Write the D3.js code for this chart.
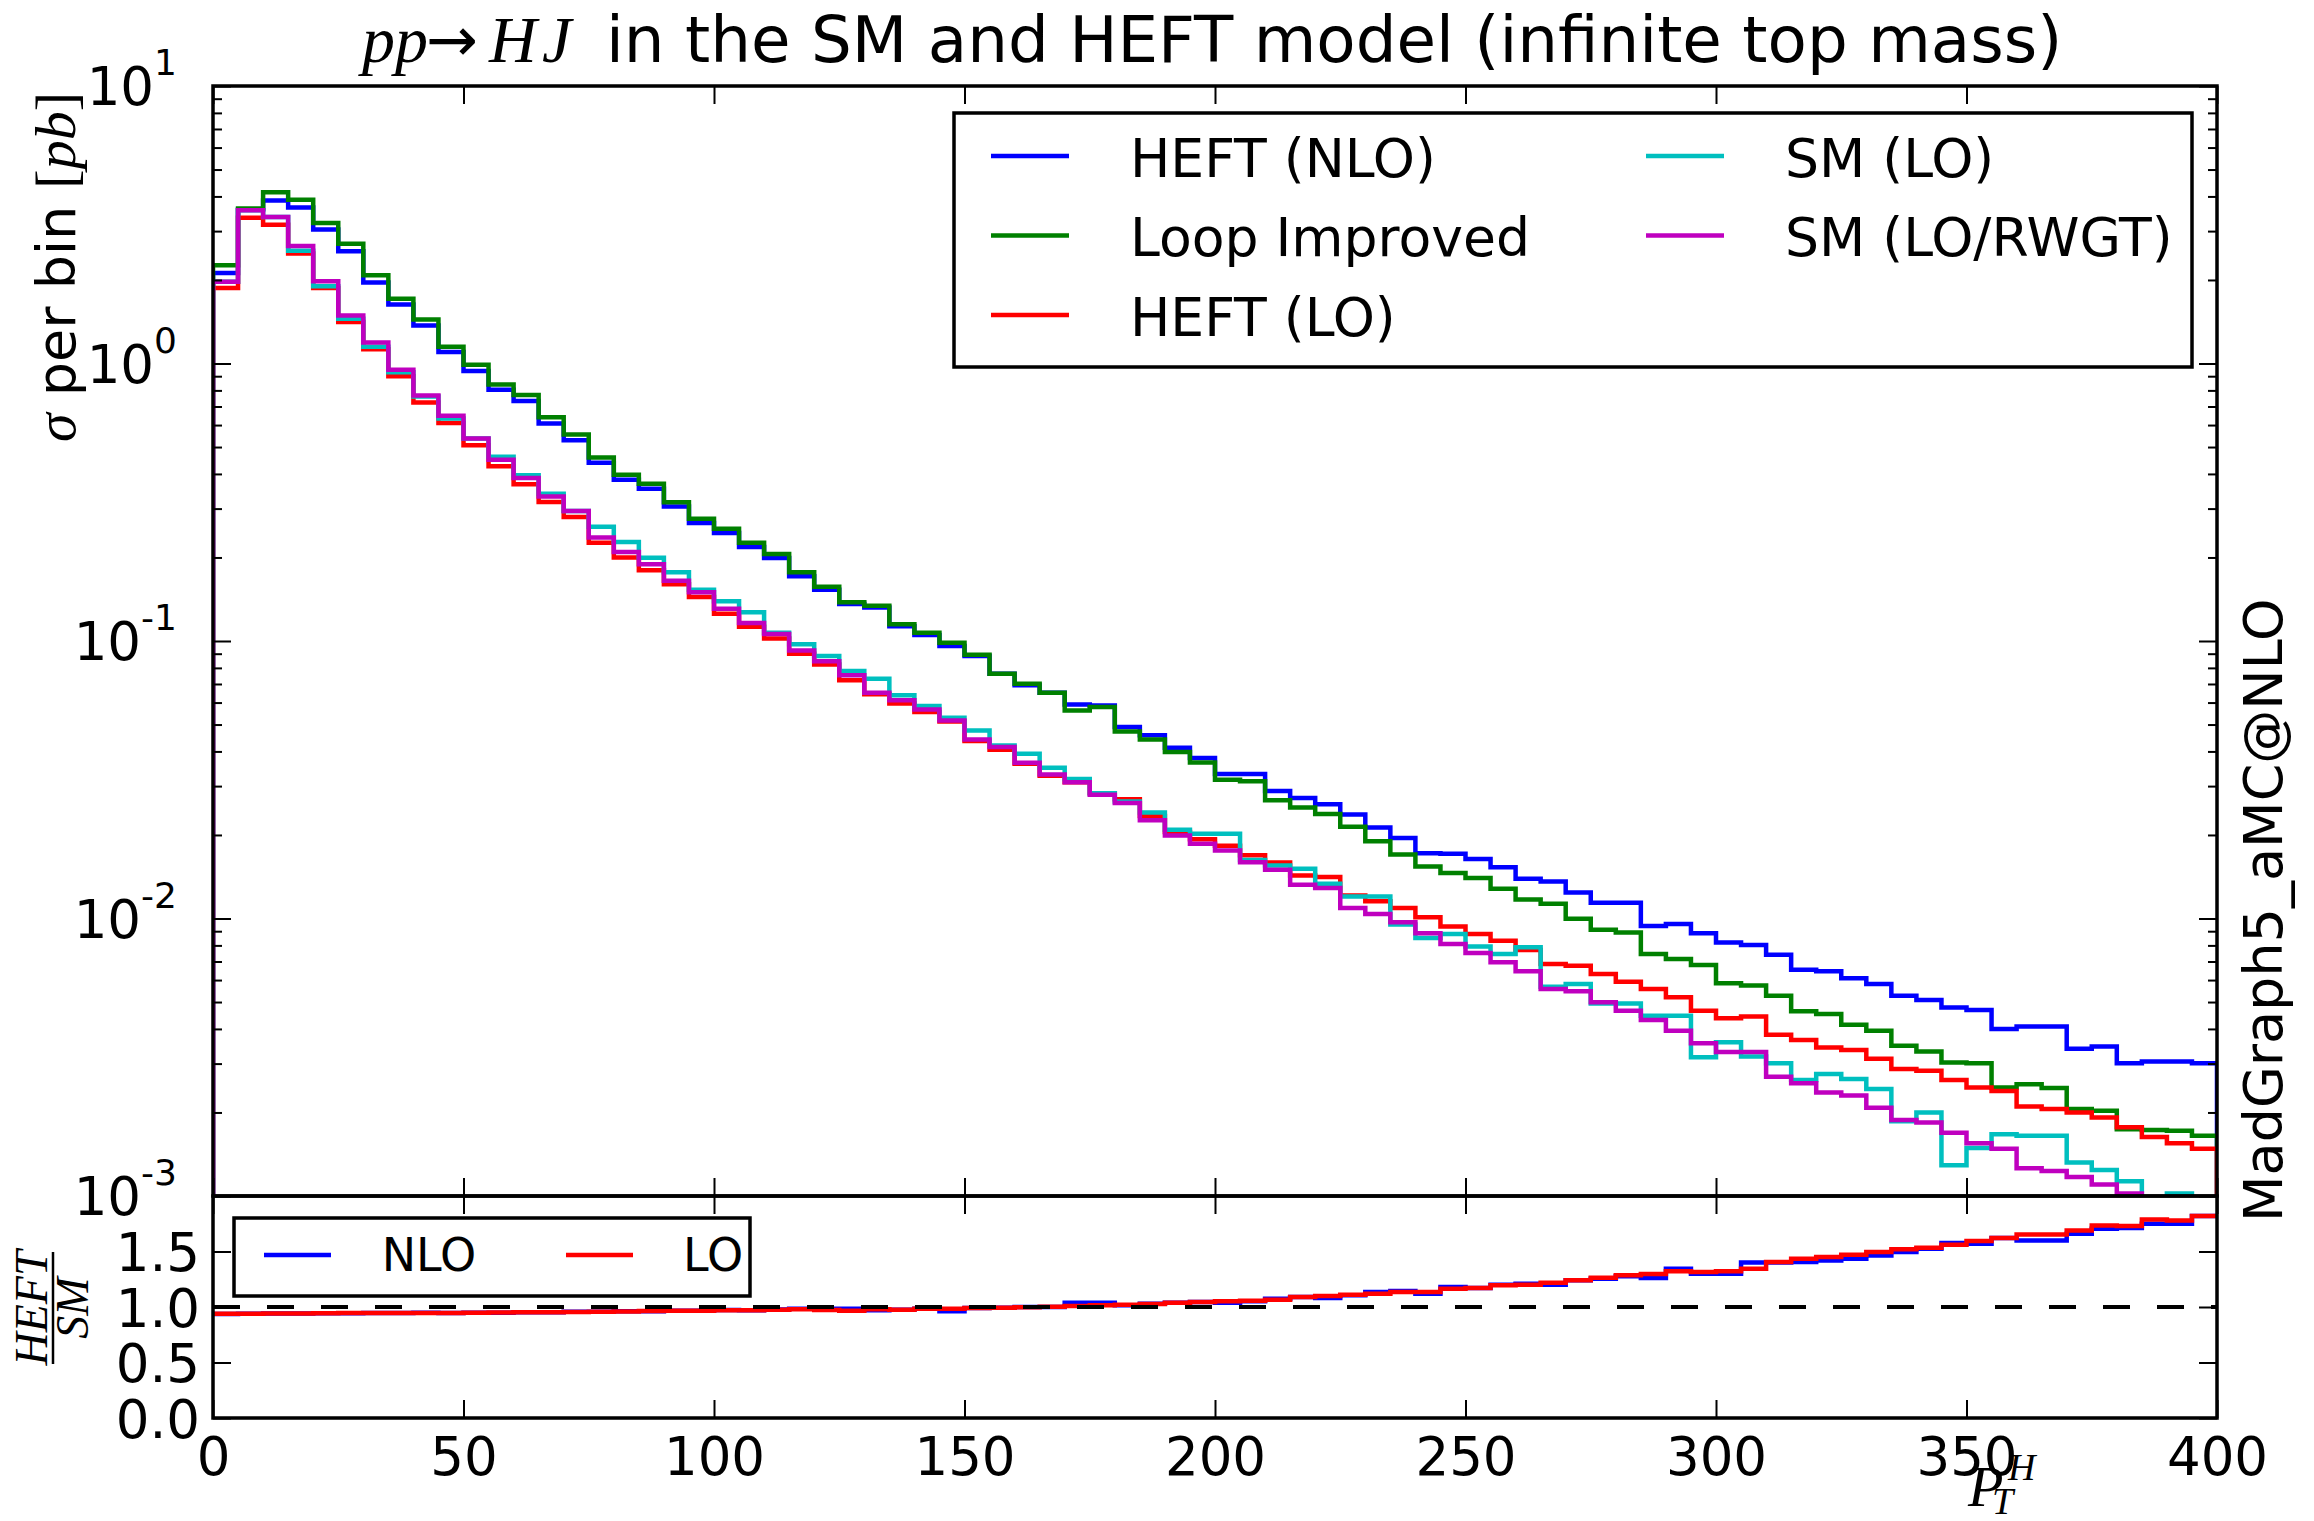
<!DOCTYPE html>
<html><head><meta charset="utf-8">
<script src="https://cdn.jsdelivr.net/npm/d3@7"></script>
<style>body{margin:0;background:#fff}svg{display:block}</style>
</head><body><svg id="c" width="2314" height="1521"></svg>
<script>
// ---------------- DATA ----------------
const ptEdges = [0,5,10,15,20,25,30,35,40,45,50,55,60,65,70,75,80,85,90,95,100,105,110,115,120,125,130,135,140,145,150,155,160,165,170,175,180,185,190,195,200,205,210,215,220,225,230,235,240,245,250,255,260,265,270,275,280,285,290,295,300,305,310,315,320,325,330,335,340,345,350,355,360,365,370,375,380,385,390,395,400];

const heftNLO = [2.12,3.59,3.87,3.65,3.04,2.54,1.96,1.63,1.37,1.10,0.94,0.805,0.732,0.608,0.529,0.439,0.381,0.354,0.305,0.266,0.245,0.218,0.199,0.171,0.153,0.136,0.132,0.113,0.105,0.0959,0.0883,0.0762,0.0692,0.0651,0.0591,0.0586,0.0490,0.0457,0.0412,0.0379,0.0332,0.0332,0.0288,0.0272,0.0258,0.0237,0.0213,0.0195,0.0172,0.0171,0.0164,0.0153,0.0139,0.0136,0.0124,0.0114,0.0114,0.0094,0.00955,0.00885,0.0082,0.00803,0.0074,0.00653,0.00646,0.00609,0.00581,0.00527,0.00509,0.00478,0.00468,0.00400,0.00408,0.00408,0.00339,0.00346,0.00301,0.00305,0.00305,0.00301];

const loopImproved = [2.26,3.62,4.14,3.89,3.21,2.70,2.08,1.71,1.44,1.15,0.99,0.84,0.77,0.64,0.555,0.458,0.397,0.369,0.316,0.276,0.254,0.226,0.206,0.177,0.157,0.138,0.134,0.115,0.107,0.0986,0.0893,0.0762,0.0702,0.0651,0.0562,0.0578,0.0472,0.0442,0.0398,0.0365,0.0316,0.0312,0.0267,0.0251,0.0238,0.0214,0.0190,0.0170,0.0154,0.0146,0.0140,0.0128,0.0117,0.0113,0.00997,0.0091,0.0089,0.00745,0.00714,0.00680,0.00584,0.00573,0.00527,0.00463,0.00453,0.00414,0.00394,0.00348,0.00332,0.00303,0.00301,0.00246,0.00253,0.00245,0.00206,0.00203,0.00174,0.00173,0.00172,0.00165];

const heftLO = [1.87,3.35,3.16,2.49,1.87,1.41,1.125,0.90,0.724,0.610,0.507,0.426,0.367,0.317,0.280,0.226,0.200,0.180,0.160,0.144,0.1255,0.1125,0.102,0.090,0.0822,0.0722,0.0643,0.0595,0.0555,0.0513,0.0436,0.0406,0.0361,0.0327,0.0310,0.0283,0.0269,0.0234,0.0205,0.0193,0.0183,0.0169,0.0159,0.0143,0.0141,0.0121,0.01154,0.0109,0.0101,0.00935,0.00880,0.00832,0.00770,0.00686,0.00676,0.00631,0.00592,0.00557,0.00520,0.00465,0.00437,0.00443,0.00381,0.00365,0.00343,0.00336,0.00312,0.00287,0.00283,0.00262,0.00246,0.00239,0.00210,0.00206,0.00200,0.00192,0.00177,0.00163,0.00155,0.00148];

const smLO = [1.97,3.57,3.37,2.55,1.90,1.45,1.15,0.93,0.760,0.634,0.537,0.461,0.396,0.339,0.294,0.258,0.2275,0.1997,0.177,0.153,0.139,0.127,0.107,0.0973,0.0883,0.078,0.0731,0.0637,0.0583,0.0529,0.0476,0.0420,0.0392,0.0349,0.0318,0.0283,0.0264,0.0241,0.0209,0.0202,0.0202,0.01626,0.01552,0.0151,0.01333,0.0120,0.0120,0.00951,0.00851,0.00880,0.00792,0.00745,0.00787,0.00568,0.00581,0.00494,0.00494,0.00446,0.00446,0.00316,0.00358,0.00318,0.00301,0.00262,0.00275,0.00264,0.00243,0.00186,0.00200,0.00129,0.00149,0.00167,0.00165,0.00165,0.00132,0.00124,0.00113,0.00095,0.00102,0.00096];

const smLORwgt = [1.97,3.57,3.37,2.65,1.98,1.49,1.19,0.95,0.767,0.648,0.537,0.450,0.387,0.332,0.294,0.236,0.2094,0.189,0.165,0.150,0.1306,0.116,0.106,0.0925,0.0845,0.0752,0.0651,0.0611,0.0566,0.0517,0.0442,0.0415,0.0364,0.0330,0.0310,0.0279,0.0261,0.0226,0.0199,0.0186,0.01758,0.01595,0.0150,0.01324,0.01288,0.01091,0.01039,0.00969,0.00885,0.00810,0.00751,0.00695,0.00645,0.00557,0.00547,0.00499,0.00465,0.00431,0.00394,0.00355,0.00330,0.00330,0.00269,0.00255,0.00236,0.00230,0.00208,0.00188,0.00184,0.00169,0.00155,0.00148,0.00126,0.00123,0.00117,0.00110,0.00102,0.00092,0.00090,0.00088];

const ratioNLO = [0.938,0.940,0.942,0.941,0.944,0.944,0.947,0.945,0.948,0.946,0.949,0.949,0.953,0.952,0.957,0.957,0.962,0.962,0.967,0.966,0.972,0.971,0.978,0.985,0.985,0.985,0.970,0.976,0.985,0.961,0.991,0.994,1.000,1.000,1.039,1.039,1.015,1.030,1.039,1.045,1.039,1.051,1.075,1.090,1.081,1.105,1.135,1.144,1.120,1.180,1.171,1.201,1.210,1.201,1.240,1.255,1.276,1.261,1.345,1.300,1.300,1.400,1.400,1.405,1.420,1.435,1.465,1.495,1.525,1.576,1.570,1.621,1.600,1.600,1.660,1.705,1.711,1.750,1.750,1.819];

const ratioLO = [0.940,0.940,0.941,0.942,0.943,0.945,0.946,0.946,0.947,0.947,0.948,0.950,0.952,0.953,0.956,0.958,0.960,0.964,0.966,0.967,0.970,0.970,0.976,0.979,0.972,0.966,0.979,0.976,0.985,0.985,0.991,0.994,0.997,1.003,1.009,1.015,1.021,1.027,1.039,1.045,1.051,1.057,1.066,1.090,1.099,1.111,1.120,1.135,1.135,1.165,1.171,1.195,1.201,1.219,1.240,1.264,1.285,1.297,1.321,1.315,1.321,1.345,1.405,1.435,1.450,1.471,1.495,1.520,1.534,1.561,1.594,1.621,1.654,1.654,1.690,1.735,1.729,1.789,1.780,1.819];

const seriesNames = ["HEFT (NLO)","Loop Improved","HEFT (LO)","SM (LO)","SM (LO/RWGT)"];
const ratioNames = ["NLO","LO"];
const xTickValues = [0,50,100,150,200,250,300,350,400];
const yMajorExps = [-3,-2,-1,0,1];
const ratioTickValues = [0,0.5,1.0,1.5];

// ---------------- LAYOUT ----------------
const L=213, R=2217, T=86, MB=1196, RB=1418;
const SANS='"DejaVu Sans", sans-serif';
const SERIF='"Liberation Serif", "DejaVu Serif", serif';
const colors = ['#0000ff','#008000','#ff0000','#00bfbf','#bf00bf'];
const seriesVals = [heftNLO, loopImproved, heftLO, smLO, smLORwgt];

const svg = d3.select('#c');
svg.append('rect').attr('width',2314).attr('height',1521).attr('fill','#fff');

const x = d3.scaleLinear().domain([0,400]).range([L,R]);
const y = d3.scaleLog().domain([1e-3,10]).range([MB,T]);
const yr = d3.scaleLinear().domain([0,2]).range([RB,MB]);

const defs = svg.append('defs');
defs.append('clipPath').attr('id','clipMain').append('rect').attr('x',L).attr('y',T).attr('width',R-L).attr('height',MB-T);
defs.append('clipPath').attr('id','clipRatio').append('rect').attr('x',L).attr('y',MB).attr('width',R-L).attr('height',RB-MB);

function stepPoints(vals, pad){
  const pts=[];
  if(pad!==undefined) pts.push([ptEdges[0], pad]);
  vals.forEach((v,i)=>{ pts.push([ptEdges[i],v]); pts.push([ptEdges[i+1],v]); });
  if(pad!==undefined) pts.push([ptEdges[vals.length], pad]);
  return pts;
}

const lineMain = d3.line().x(d=>x(d[0])).y(d=>y(d[1]));
const lineRatio = d3.line().x(d=>x(d[0])).y(d=>yr(d[1]));

const gMain = svg.append('g').attr('clip-path','url(#clipMain)');
seriesVals.forEach((vals,i)=>{
  gMain.append('path').attr('d', lineMain(stepPoints(vals, 1e-4)))
    .attr('fill','none').attr('stroke',colors[i]).attr('stroke-width',4.5)
    .attr('stroke-linejoin','miter');
});

const gRatio = svg.append('g').attr('clip-path','url(#clipRatio)');
[[ratioNLO,'#0000ff'],[ratioLO,'#ff0000']].forEach(([vals,c])=>{
  gRatio.append('path').attr('d', lineRatio(stepPoints(vals)))
    .attr('fill','none').attr('stroke',c).attr('stroke-width',4.5);
});
gRatio.append('line').attr('x1',L).attr('x2',R).attr('y1',yr(1)).attr('y2',yr(1))
  .attr('stroke','#000').attr('stroke-width',4).attr('stroke-dasharray','27,27');

// ---------------- TICKS ----------------
function styleAxis(g){
  g.select('.domain').remove();
  g.selectAll('.tick line').attr('stroke','#000').attr('stroke-width',2);
  g.selectAll('.tick text').attr('fill','#000');
  g.attr('font-family',SANS);
}
svg.append('g').attr('transform',`translate(0,${T})`).call(d3.axisTop(x).tickValues(xTickValues).tickSize(-18).tickFormat('')).call(styleAxis);
svg.append('g').attr('transform',`translate(0,${MB})`).call(d3.axisBottom(x).tickValues(xTickValues).tickSize(-18).tickFormat('')).call(styleAxis);
svg.append('g').attr('transform',`translate(0,${MB})`).call(d3.axisTop(x).tickValues(xTickValues).tickSize(-18).tickFormat('')).call(styleAxis);
const xb = svg.append('g').attr('transform',`translate(0,${RB})`).call(d3.axisBottom(x).tickValues(xTickValues).tickSize(-18).tickPadding(19).tickFormat(d3.format('d'))).call(styleAxis);
xb.selectAll('.tick text').attr('font-size',53);

const yMajors = yMajorExps.map(e=>Math.pow(10,e));
const yMinors = [];
yMajorExps.slice(0,-1).forEach(e=>{ for(let m=2;m<=9;m++) yMinors.push(m*Math.pow(10,e)); });
svg.append('g').attr('transform',`translate(${L},0)`).call(d3.axisLeft(y).tickValues(yMajors).tickSize(-18).tickFormat('')).call(styleAxis);
svg.append('g').attr('transform',`translate(${L},0)`).call(d3.axisLeft(y).tickValues(yMinors).tickSize(-9).tickFormat('')).call(styleAxis);
svg.append('g').attr('transform',`translate(${R},0)`).call(d3.axisRight(y).tickValues(yMajors).tickSize(-18).tickFormat('')).call(styleAxis);
svg.append('g').attr('transform',`translate(${R},0)`).call(d3.axisRight(y).tickValues(yMinors).tickSize(-9).tickFormat('')).call(styleAxis);

yMajorExps.forEach(e=>{
  const t = svg.append('text').attr('x',177).attr('y',y(Math.pow(10,e))+19)
    .attr('text-anchor','end').attr('font-family',SANS).attr('fill','#000');
  t.append('tspan').attr('font-size',53).text('10');
  t.append('tspan').attr('font-size',36).attr('dy',-30).text(e<0?('-'+(-e)):String(e));
});

const yrl = svg.append('g').attr('transform',`translate(${L},0)`).call(d3.axisLeft(yr).tickValues(ratioTickValues).tickSize(-18).tickPadding(13).tickFormat(d3.format('.1f'))).call(styleAxis);
yrl.selectAll('.tick text').attr('font-size',53).attr('dy','0.36em');
svg.append('g').attr('transform',`translate(${R},0)`).call(d3.axisRight(yr).tickValues(ratioTickValues).tickSize(-18).tickFormat('')).call(styleAxis);

svg.append('rect').attr('x',L).attr('y',T).attr('width',R-L).attr('height',MB-T).attr('fill','none').attr('stroke','#000').attr('stroke-width',3.5);
svg.append('rect').attr('x',L).attr('y',MB).attr('width',R-L).attr('height',RB-MB).attr('fill','none').attr('stroke','#000').attr('stroke-width',3.5);

// ---------------- LEGENDS ----------------
svg.append('rect').attr('x',954).attr('y',113).attr('width',2192-954).attr('height',367-113)
  .attr('fill','#fff').attr('stroke','#000').attr('stroke-width',3.5);
const legPos = [[991,156],[991,235.5],[991,315],[1646,156],[1646,235.5]];
const legTextX = [1130,1130,1130,1785,1785];
seriesNames.forEach((n,i)=>{
  const [lx,ly]=legPos[i];
  svg.append('line').attr('x1',lx).attr('x2',lx+78).attr('y1',ly).attr('y2',ly).attr('stroke',colors[i]).attr('stroke-width',4.5);
  svg.append('text').attr('x',legTextX[i]).attr('y',ly+20.5).attr('font-family',SANS).attr('font-size',53.6).attr('fill','#000').text(n);
});

svg.append('rect').attr('x',234).attr('y',1218).attr('width',750-234).attr('height',1296-1218)
  .attr('fill','#fff').attr('stroke','#000').attr('stroke-width',3.5);
[[264,381.7,'#0000ff'],[566,683,'#ff0000']].forEach(([hx,tx,c],i)=>{
  svg.append('line').attr('x1',hx).attr('x2',hx+67).attr('y1',1255).attr('y2',1255).attr('stroke',c).attr('stroke-width',4.5);
  svg.append('text').attr('x',tx).attr('y',1271).attr('font-family',SANS).attr('font-size',46).attr('fill','#000').text(ratioNames[i]);
});

// ---------------- TEXTS ----------------
const tm = svg.append('text').attr('font-family',SERIF).attr('font-style','italic').attr('fill','#000');
tm.append('tspan').attr('x',362).attr('y',62).attr('font-size',66).text('pp');
tm.append('tspan').attr('x',426).attr('y',61).attr('font-family',SANS).attr('font-style','normal').attr('font-size',62).text('→');
tm.append('tspan').attr('x',489).attr('y',62).attr('font-size',66).text('H');
tm.append('tspan').attr('x',542).attr('y',62).attr('font-size',66).text('J');
svg.append('text').attr('x',606).attr('y',62).attr('font-family',SANS).attr('font-size',64.3).attr('fill','#000').text('in the SM and HEFT model (infinite top mass)');

const yl = svg.append('text').attr('transform','translate(75,92) rotate(-90)').attr('text-anchor','end').attr('font-size',54).attr('fill','#000');
yl.append('tspan').attr('font-family',SERIF).attr('font-style','italic').attr('font-size',58).text('σ');
yl.append('tspan').attr('font-family',SANS).text(' per bin ');
yl.append('tspan').attr('font-family',SERIF).attr('font-size',58).text('[');
yl.append('tspan').attr('font-family',SERIF).attr('font-style','italic').attr('font-size',58).text('pb');
yl.append('tspan').attr('font-family',SERIF).attr('font-size',58).text(']');

const fr = svg.append('g').attr('transform','translate(53,1308) rotate(-90)');
fr.append('text').attr('x',0).attr('y',-6).attr('text-anchor','middle').attr('font-family',SERIF).attr('font-style','italic').attr('font-size',46).text('HEFT');
fr.append('line').attr('x1',-56).attr('x2',56).attr('y1',0).attr('y2',0).attr('stroke','#000').attr('stroke-width',2.5);
fr.append('text').attr('x',0).attr('y',35).attr('text-anchor','middle').attr('font-family',SERIF).attr('font-style','italic').attr('font-size',46).text('SM');

svg.append('text').attr('transform','translate(2282,1222) rotate(-90)').attr('font-family',SANS).attr('font-size',54).attr('fill','#000').text('MadGraph5_aMC@NLO');

// x label P_T^H (sits over the 350 label, as in the reference)
const xl = svg.append('text').attr('font-family',SERIF).attr('font-style','italic').attr('fill','#000');
xl.append('tspan').attr('x',1968).attr('y',1506).attr('font-size',58).text('P');
xl.append('tspan').attr('x',1992).attr('y',1514).attr('font-size',38).text('T');
xl.append('tspan').attr('x',2008).attr('y',1480).attr('font-size',38).text('H');
</script></body></html>
